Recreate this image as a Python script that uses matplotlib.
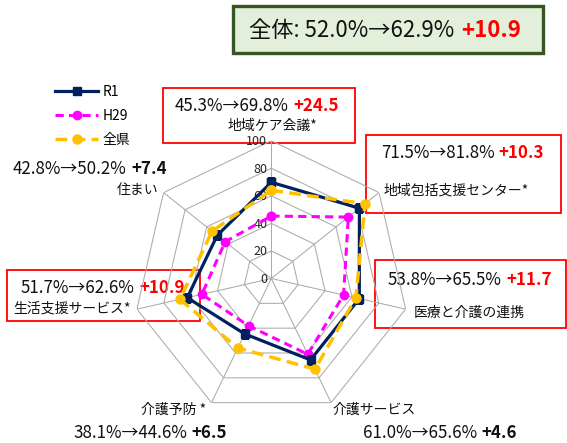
import numpy as np
import matplotlib
matplotlib.use("Agg")
import matplotlib.pyplot as plt
from matplotlib.patches import Rectangle
from matplotlib.transforms import offset_copy

plt.rcParams['font.family'] = ['Noto Sans CJK JP', 'DejaVu Sans']

# ---- data -------------------------------------------------------------
categories = ['地域ケア会議*', '地域包括支援センター*', '医療と介護の連携',
              '介護サービス', '介護予防 *', '生活支援サービス*', '住まい']
h29 = [45.3, 71.5, 53.8, 61.0, 38.1, 51.7, 42.8]
r1 = [69.8, 81.8, 65.5, 65.6, 44.6, 62.6, 50.2]
prefecture = [64.0, 87.0, 63.0, 73.0, 56.0, 68.0, 55.0]
series_names = ['R1', 'H29', '全県']
overall = [52.0, 62.9]
ring_levels = [0, 20, 40, 60, 80, 100]
highlighted = [True, True, True, False, False, True, False]

# ---- figure -----------------------------------------------------------
W, H = 567, 443
fig = plt.figure(figsize=(W / 100, H / 100), dpi=100)

# overlay axes in pixel coordinates for boxes and annotations
ov = fig.add_axes([0, 0, 1, 1], zorder=0)
ov.set_xlim(0, W)
ov.set_ylim(H, 0)
ov.axis('off')

cx, cy, R = 271.3, 278.5, 137.8
ax = fig.add_axes([(cx - R) / W, (H - cy - R) / H, 2 * R / W, 2 * R / H],
                  projection='polar', zorder=1)
ax.patch.set_alpha(0)
ax.set_theta_zero_location('N')
ax.set_theta_direction(-1)
ax.set_ylim(0, 100)
ax.axis('off')

n = len(categories)
theta = np.arange(n) * 2 * np.pi / n
theta_c = np.append(theta, theta[0])

grid_col = '#ABABAB'
for lv in ring_levels[1:]:
    ax.plot(theta_c, [lv] * (n + 1), color=grid_col, lw=0.75, zorder=1)
for t in theta:
    ax.plot([t, t], [0, 100], color=grid_col, lw=0.75, zorder=1)

lab_tr = offset_copy(ax.transData, fig=fig, x=-4, y=-1, units='dots')
for lv in ring_levels:
    ax.text(0, lv, str(lv), transform=lab_tr, ha='right', va='center',
            fontsize=9, color='#222222', zorder=2)

def closed(v):
    return list(v) + [v[0]]

l_r1, = ax.plot(theta_c, closed(r1), color='#002060', lw=2.3, marker='s',
                markersize=5.5, label=series_names[0], zorder=4)
l_h29, = ax.plot(theta_c, closed(h29), color='#FF00FF', lw=2.2,
                 linestyle=(0, (2.7, 1.7)), marker='o', markersize=6,
                 label=series_names[1], zorder=3)
l_pref, = ax.plot(theta_c, closed(prefecture), color='#FFC000', lw=2.5,
                  linestyle=(0, (3.4, 1.8)), marker='o', markersize=6.5,
                  label=series_names[2], zorder=5)

leg = ax.legend(handles=[l_r1, l_h29, l_pref], loc='upper left',
                bbox_to_anchor=(55 / W, 1 - 85 / H),
                bbox_transform=fig.transFigure, frameon=False, fontsize=10,
                handlelength=3.1, handletextpad=0.35, labelspacing=0.72,
                numpoints=1, borderaxespad=0, borderpad=0)

# ---- title box --------------------------------------------------------
ov.add_patch(Rectangle((233, 6), 310, 47, facecolor='#E2EFDA',
                       edgecolor='#375623', lw=2.4))
t = ov.text(249, 30, f'全体: {overall[0]:.1f}%→{overall[1]:.1f}%', fontsize=16,
            ha='left', va='center', color='#111111')
ov.annotate(f'+{overall[1] - overall[0]:.1f}', xy=(1, 0.5), xycoords=t,
            xytext=(5, 0), textcoords='offset points', ha='left',
            va='center', fontsize=16, fontweight='bold', color='#FF0000')

# ---- per-category annotations ------------------------------------------
# (number line x, y), (name centre x, y), box (x0, y0, x1, y1) or None
layout = [
    ((175, 106), (272, 126), (163, 88, 355, 143)),
    ((381, 153), (456, 190), (366, 135, 561, 213)),
    ((388, 280), (469, 313), (375, 260, 566, 328)),
    ((363, 433), (374, 410), None),
    ((73, 433), (174, 410), None),
    ((21, 288), (72, 309), (7, 270, 200, 321)),
    ((13, 169), (138, 190), None),
]

for i, name in enumerate(categories):
    (nx, ny), (lx, ly), box = layout[i]
    if box is not None:
        x0, y0, x1, y1 = box
        ov.add_patch(Rectangle((x0, y0), x1 - x0, y1 - y0, facecolor='none',
                               edgecolor='#FF0000', lw=1.3))
    ov.text(lx, ly, name, fontsize=10, ha='center', va='center',
            color='#111111')
    t = ov.text(nx, ny, f'{h29[i]:.1f}%→{r1[i]:.1f}%', fontsize=12.2,
                ha='left', va='center', color='#111111')
    ov.annotate(f'+{r1[i] - h29[i]:.1f}', xy=(1, 0.5), xycoords=t,
                xytext=(3, 0), textcoords='offset points', ha='left',
                va='center', fontsize=12.2, fontweight='bold',
                color='#FF0000' if highlighted[i] else '#111111')

fig.savefig('out.png', dpi=100)
